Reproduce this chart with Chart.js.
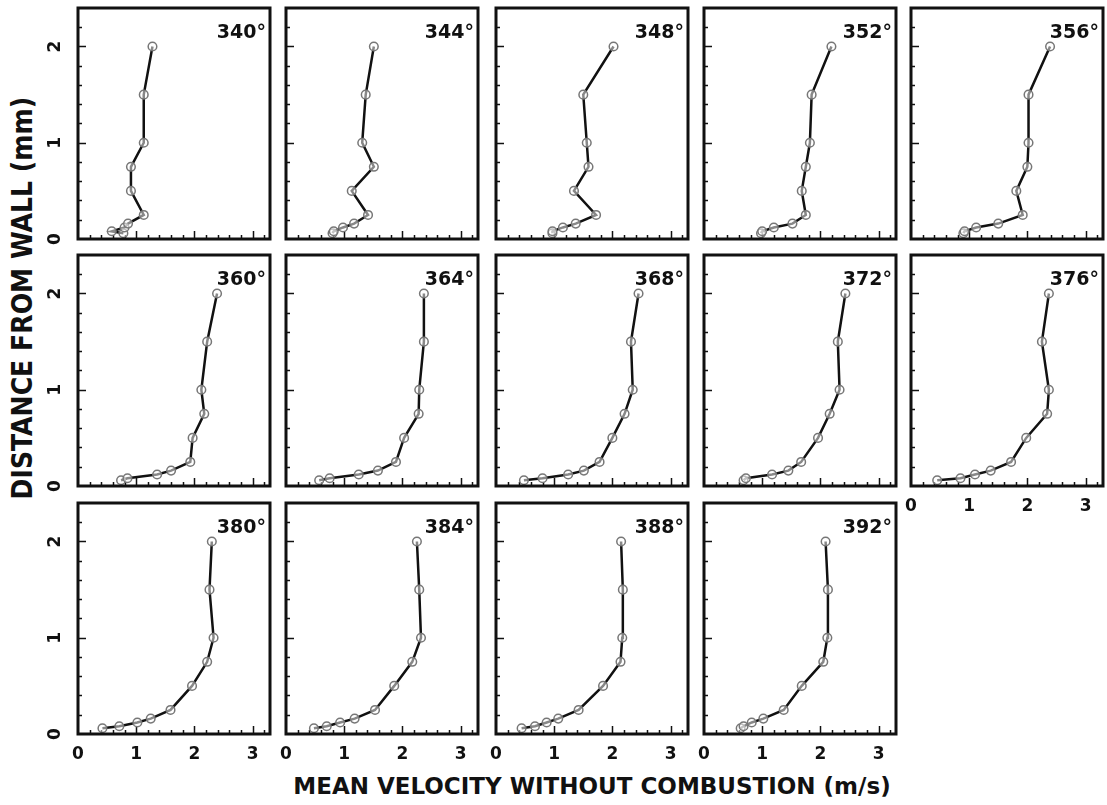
<!DOCTYPE html>
<html lang="en">
<head>
<meta charset="UTF-8">
<title>Mean velocity without combustion</title>
<script src="https://cdn.jsdelivr.net/npm/chart.js"></script>
<style>
  body { margin: 0; background: #fff; width: 1107px; height: 805px; position: relative; overflow: hidden; }
  canvas { position: absolute; }
  .ytitle { position: absolute; left: 22px; top: 298px; transform: translate(-50%, -50%) rotate(-90deg);
            font: bold 28px "DejaVu Sans Condensed", "Liberation Sans Narrow", sans-serif; white-space: nowrap; color: #111; }
  .xtitle { position: absolute; left: 592px; top: 786px; transform: translate(-50%, -50%);
            font: bold 23px "DejaVu Sans", sans-serif; white-space: nowrap; color: #111; }
</style>
</head>
<body>
<div class="ytitle">DISTANCE FROM WALL (mm)</div>
<div class="xtitle">MEAN VELOCITY WITHOUT COMBUSTION (m/s)</div>
<script>
// distance from wall (mm) of the measuring points, same for every panel
const depth = [0.06, 0.08, 0.12, 0.16, 0.25, 0.5, 0.75, 1.0, 1.5, 2.0];

// crank angle of each panel
const angles = ['340°', '344°', '348°', '352°', '356°',
                '360°', '364°', '368°', '372°', '376°',
                '380°', '384°', '388°', '392°'];

// mean velocity (m/s) at each depth
const v340 = [0.78, 0.58, 0.80, 0.86, 1.13, 0.91, 0.91, 1.13, 1.13, 1.28];
const v344 = [0.80, 0.82, 0.98, 1.17, 1.41, 1.13, 1.51, 1.31, 1.37, 1.51];
const v348 = [0.97, 0.97, 1.15, 1.37, 1.72, 1.34, 1.59, 1.56, 1.50, 2.02];
const v352 = [0.98, 1.00, 1.20, 1.52, 1.75, 1.68, 1.75, 1.82, 1.85, 2.19];
const v356 = [0.90, 0.92, 1.12, 1.50, 1.92, 1.81, 2.00, 2.02, 2.02, 2.39];
const v360 = [0.74, 0.85, 1.36, 1.60, 1.93, 1.97, 2.17, 2.12, 2.22, 2.39];
const v364 = [0.57, 0.75, 1.25, 1.58, 1.89, 2.03, 2.28, 2.29, 2.37, 2.37];
const v368 = [0.48, 0.80, 1.24, 1.51, 1.78, 2.00, 2.21, 2.35, 2.32, 2.45];
const v372 = [0.68, 0.72, 1.17, 1.45, 1.67, 1.96, 2.16, 2.33, 2.30, 2.43];
const v376 = [0.45, 0.85, 1.10, 1.37, 1.72, 1.98, 2.34, 2.37, 2.25, 2.37];
const v380 = [0.42, 0.71, 1.02, 1.25, 1.59, 1.96, 2.22, 2.33, 2.26, 2.30];
const v384 = [0.48, 0.70, 0.93, 1.18, 1.53, 1.86, 2.17, 2.32, 2.29, 2.25];
const v388 = [0.44, 0.67, 0.87, 1.07, 1.42, 1.84, 2.14, 2.17, 2.18, 2.15];
const v392 = [0.63, 0.68, 0.82, 1.02, 1.37, 1.68, 2.05, 2.12, 2.13, 2.09];

const velocities = [v340, v344, v348, v352, v356, v360, v364, v368, v372, v376,
                    v380, v384, v388, v392];

const xTicks = [0, 1, 2, 3];
const yTicks = [0, 1, 2];

// layout of the panel frames
const colLeft = [78, 286, 496, 704, 911];
const rowTop = [8, 255, 503];
const boxW = 192, boxH = 231;
const pad = { left: 40, right: 6, top: 6, bottom: 34 };

const panelDecor = {
  id: 'panelDecor',
  beforeDatasetsDraw(chart) {
    const { ctx, chartArea: a, scales: { x, y } } = chart;
    ctx.save();
    ctx.strokeStyle = '#111';
    ctx.lineWidth = 1.5;
    ctx.beginPath();
    // small ticks every 0.2 inside the frame
    for (let i = 1; i <= 16; i++) {
      const px = Math.round(x.getPixelForValue(i * 0.2)) + 0.5;
      const len = i % 5 === 0 ? 8 : 4;
      ctx.moveTo(px, a.bottom);
      ctx.lineTo(px, a.bottom - len);
    }
    for (let i = 1; i <= 11; i++) {
      const py = Math.round(y.getPixelForValue(i * 0.2)) + 0.5;
      const len = i % 5 === 0 ? 8 : 4;
      ctx.moveTo(a.left, py);
      ctx.lineTo(a.left + len, py);
    }
    ctx.stroke();
    ctx.restore();
  },
  afterDraw(chart, args, opts) {
    const { ctx, chartArea: a, scales: { x, y } } = chart;
    ctx.save();
    ctx.strokeStyle = '#111';
    ctx.lineWidth = 3;
    ctx.strokeRect(a.left, a.top, a.right - a.left, a.bottom - a.top);

    ctx.fillStyle = '#111';
    ctx.font = 'bold 19px "DejaVu Sans", sans-serif';
    ctx.textAlign = 'right';
    ctx.textBaseline = 'alphabetic';
    ctx.fillText(opts.title, a.right - 4, a.top + 30);

    ctx.font = 'bold 17px "DejaVu Sans", sans-serif';
    ctx.textAlign = 'center';
    ctx.textBaseline = 'middle';
    if (opts.showX) {
      xTicks.forEach(v => ctx.fillText(String(v), x.getPixelForValue(v), a.bottom + 21));
    }
    if (opts.showY) {
      yTicks.forEach(v => {
        ctx.save();
        ctx.translate(a.left - 22, y.getPixelForValue(v));
        ctx.rotate(-Math.PI / 2);
        ctx.fillText(String(v), 0, 0);
        ctx.restore();
      });
    }
    ctx.restore();
  }
};

velocities.forEach((vel, i) => {
  const row = Math.floor(i / 5), col = i % 5;
  const canvas = document.createElement('canvas');
  canvas.width = pad.left + boxW + pad.right;
  canvas.height = pad.top + boxH + pad.bottom;
  canvas.style.left = (colLeft[col] - pad.left) + 'px';
  canvas.style.top = (rowTop[row] - pad.top) + 'px';
  document.body.appendChild(canvas);

  new Chart(canvas, {
    type: 'scatter',
    data: {
      datasets: [{
        data: depth.map((d, k) => ({ x: vel[k], y: d })),
        showLine: true,
        borderColor: '#111',
        borderWidth: 2.5,
        pointRadius: 4.3,
        pointBorderWidth: 1.5,
        pointBorderColor: '#777',
        pointBackgroundColor: 'rgba(255,255,255,0.5)',
        clip: false
      }]
    },
    options: {
      responsive: false,
      animation: false,
      devicePixelRatio: 1,
      layout: { padding: pad },
      plugins: {
        legend: { display: false },
        tooltip: { enabled: false },
        panelDecor: { title: angles[i], showX: row === 2 || i === 9, showY: col === 0 }
      },
      scales: {
        x: { type: 'linear', min: 0, max: 3.3, display: false },
        y: { type: 'linear', min: 0, max: 2.4, display: false }
      }
    },
    plugins: [panelDecor]
  });
});
</script>
</body>
</html>
